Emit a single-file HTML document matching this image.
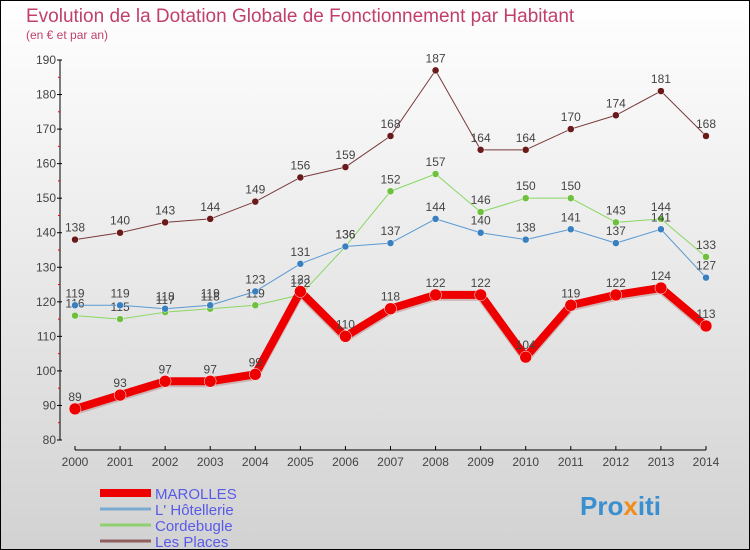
<!DOCTYPE html>
<html><head><meta charset="utf-8"><style>
body{margin:0}
#wrap{width:750px;height:550px;position:relative;overflow:hidden}
svg text{font-family:"Liberation Sans",sans-serif}
</style></head><body>
<div id="wrap">
<svg id="c" width="750" height="550" xmlns="http://www.w3.org/2000/svg">
<defs><linearGradient id="bg" x1="0" y1="0" x2="0" y2="1"><stop offset="0" stop-color="#ffffff"/><stop offset="1" stop-color="#d2d2d2"/></linearGradient></defs>
<rect x="0.5" y="0.5" width="749" height="549" fill="url(#bg)" stroke="#000"/>
<text x="26" y="22" font-size="19" fill="#c0406a">Evolution de la Dotation Globale de Fonctionnement par Habitant</text>
<text x="26" y="39" font-size="12" fill="#c0406a">(en € et par an)</text>
<g id="axes"></g><g id="series"></g><g id="legend"></g>
<text x="580" y="515" font-size="26" font-weight="bold" fill="#3a8fd0">Pro<tspan fill="#f08c1e">x</tspan>iti</text>
</svg>
</div>
<script>
const years=[2000,2001,2002,2003,2004,2005,2006,2007,2008,2009,2010,2011,2012,2013,2014];
const yTicks=[80,90,100,110,120,130,140,150,160,170,180,190];
const marolles=[89,93,97,97,99,123,110,118,122,122,104,119,122,124,113];
const hotellerie=[119,119,118,119,123,131,136,137,144,140,138,141,137,141,127];
const cordebugle=[116,115,117,118,119,122,136,152,157,146,150,150,143,144,133];
const lesPlaces=[138,140,143,144,149,156,159,168,187,164,164,170,174,181,168];
const seriesNames=["MAROLLES","L' Hôtellerie","Cordebugle","Les Places"];
const NS="http://www.w3.org/2000/svg";
const xs=i=>75+i*(706-75)/(years.length-1);
const ys=v=>440-(v-80)*(380/110);
function mk(t,a,p){const e=document.createElementNS(NS,t);for(const k in a)e.setAttribute(k,a[k]);p.appendChild(e);return e;}
const ax=document.getElementById('axes');
const yl=mk('line',{x1:60,y1:60,x2:60,y2:440,stroke:'#000'},ax);


yTicks.forEach(v=>{
 mk('line',{x1:57,y1:ys(v),x2:62,y2:ys(v),stroke:'#000'},ax);
 if(v<190)mk('line',{x1:58,y1:ys(v+5),x2:60,y2:ys(v+5),stroke:'#e00'},ax);
 const t=mk('text',{x:56,y:ys(v)+4,'font-size':12,'text-anchor':'end',fill:'#444'},ax);t.textContent=v;
 
 
});
const xl=mk('line',{x1:75,y1:450,x2:706,y2:450,stroke:'#000'},ax);


years.forEach((y,i)=>{
 mk('line',{x1:xs(i),y1:446,x2:xs(i),y2:450,stroke:'#000'},ax);
 const t=mk('text',{x:xs(i),y:466,'font-size':12,'text-anchor':'middle',fill:'#444'},ax);t.textContent=y;
 
 
});
const sg=document.getElementById('series');
function draw(data,color,w,r,name,dot){
 const g=mk('g',{},sg);
 
 
 const pts=data.map((v,i)=>xs(i)+','+ys(v)).join(' ');
 if(w>3)mk('polyline',{points:data.map((v,i)=>xs(i)+','+(ys(v)+2)).join(' '),fill:'none',stroke:'#b88','stroke-width':w,'stroke-linejoin':'round',opacity:0.5},g);
 mk('polyline',{points:pts,fill:'none',stroke:color,'stroke-width':w,'stroke-linejoin':'round'},g);
 data.forEach((v,i)=>{
  const c=mk('circle',{cx:xs(i),cy:ys(v),r:r,fill:dot,stroke:'#fff','stroke-width':0.5},g);
  
  
  const t=mk('text',{x:xs(i),y:ys(v)-8,'font-size':12,'text-anchor':'middle',fill:'#444'},g);t.textContent=v;
  
  
 });
}
draw(lesPlaces,'#7a3a3a',1,3.5,'les-places','#6a1a1a');
draw(cordebugle,'#88d860',1,3.5,'cordebugle','#70c040');
draw(hotellerie,'#5a9ad0',1,3.5,'hotellerie','#3a80c0');
draw(marolles,'#ee0000',8,6,'marolles','#ee0000');
const lg=document.getElementById('legend');
const lc=[['#ee0000',8],['#7aaad0',3],['#90d070',3],['#906060',3]];
seriesNames.forEach((n,i)=>{
 const y=493+i*16;
 const l=mk('line',{x1:100,y1:y,x2:151,y2:y,stroke:lc[i][0],'stroke-width':lc[i][1]},lg);
 
 
 const t=mk('text',{x:155,y:y+6,'font-size':15,fill:'#5a5ae8'},lg);t.textContent=n;
 
 
});
</script>
</body></html>
